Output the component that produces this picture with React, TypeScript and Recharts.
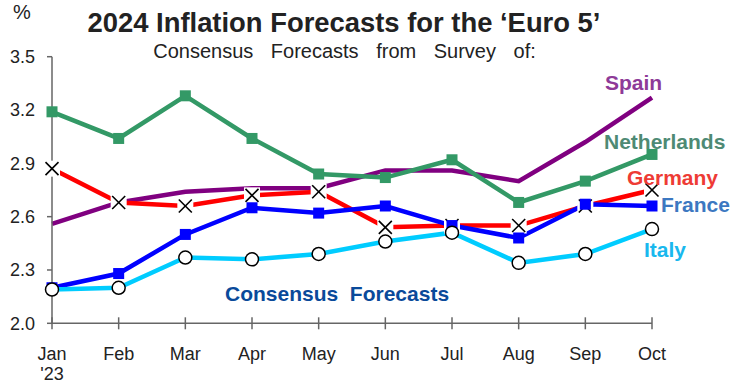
import { LineChart, Line, XAxis, YAxis } from 'recharts';

const months = ['Jan', 'Feb', 'Mar', 'Apr', 'May', 'Jun', 'Jul', 'Aug', 'Sep', 'Oct'];
const netherlands = [3.19, 3.04, 3.28, 3.04, 2.84, 2.82, 2.92, 2.68, 2.8, 2.95];
const spain = [2.56, 2.68, 2.74, 2.76, 2.76, 2.86, 2.86, 2.8, 3.02, 3.27];
const germany = [2.87, 2.68, 2.66, 2.72, 2.74, 2.54, 2.55, 2.55, 2.66, 2.75];
const france = [2.2, 2.28, 2.5, 2.65, 2.62, 2.66, 2.55, 2.48, 2.67, 2.66];
const italy = [2.19, 2.2, 2.37, 2.36, 2.39, 2.46, 2.51, 2.34, 2.39, 2.53];
const yTicks = [2.0, 2.3, 2.6, 2.9, 3.2, 3.5];

const data = months.map((m, i) => ({
  month: m,
  netherlands: netherlands[i],
  spain: spain[i],
  germany: germany[i],
  france: france[i],
  italy: italy[i],
}));

const FONT = '"Liberation Sans", Arial, sans-serif';
const AXIS = '#666666';

const squareDot = (color: string) => (props: any) => {
  const { cx, cy, index } = props;
  if (cx == null || cy == null) return <g key={index} />;
  return <rect key={index} x={cx - 5.5} y={cy - 5.5} width={11} height={11} fill={color} />;
};

const CrossDot = (props: any) => {
  const { cx, cy, index } = props;
  if (cx == null || cy == null) return <g key={index} />;
  return (
    <g key={index}>
      <rect x={cx - 8} y={cy - 8} width={16} height={16} fill="#fff" />
      <line x1={cx - 6.5} y1={cy - 6.5} x2={cx + 6.5} y2={cy + 6.5} stroke="#000" strokeWidth={1.6} />
      <line x1={cx - 6.5} y1={cy + 6.5} x2={cx + 6.5} y2={cy - 6.5} stroke="#000" strokeWidth={1.6} />
    </g>
  );
};

const CircleDot = (props: any) => {
  const { cx, cy, index } = props;
  if (cx == null || cy == null) return <g key={index} />;
  return <circle key={index} cx={cx} cy={cy} r={6.5} fill="#fff" stroke="#000" strokeWidth={1.5} />;
};

const MonthTick = (props: any) => {
  const { x, y, payload } = props;
  return (
    <g>
      <line x1={x} y1={y - 12} x2={x} y2={y} stroke={AXIS} strokeWidth={1.5} />
      <text x={x} y={y + 31} textAnchor="middle" fontSize={18} fill="#222" fontFamily={FONT}>
        {payload.value}
      </text>
      {payload.value === 'Jan' && (
        <text x={x} y={y + 51} textAnchor="middle" fontSize={18} fill="#222" fontFamily={FONT}>
          '23
        </text>
      )}
    </g>
  );
};

export default function App() {
  return (
    <div style={{ position: 'absolute', left: 0, top: 0, width: 731, height: 385, fontFamily: FONT }}>
      <LineChart
        width={731}
        height={385}
        data={data}
        margin={{ top: 56.7, right: 79, left: 16, bottom: 11.7 }}
      >
        <XAxis
          dataKey="month"
          height={50}
          stroke={AXIS}
          strokeWidth={1.5}
          tickLine={false}
          tickSize={6}
          tickMargin={0}
          interval={0}
          tick={<MonthTick />}
        />
        <YAxis
          width={36}
          domain={[2, 3.5]}
          ticks={yTicks}
          tickFormatter={(v: number) => v.toFixed(1)}
          stroke={AXIS}
          strokeWidth={1.5}
          tickSize={5}
          tickMargin={12}
          tick={{ fontSize: 18, fill: '#222', fontFamily: FONT }}
          allowDataOverflow
        />
        <Line dataKey="spain" stroke="#800080" strokeWidth={4.5} dot={false} isAnimationActive={false} />
        <Line dataKey="netherlands" stroke="#339966" strokeWidth={4.5} dot={squareDot('#339966')} isAnimationActive={false} />
        <Line dataKey="germany" stroke="#ff0000" strokeWidth={4.5} dot={CrossDot} isAnimationActive={false} />
        <Line dataKey="france" stroke="#0000ff" strokeWidth={4.5} dot={squareDot('#0000ff')} isAnimationActive={false} />
        <Line dataKey="italy" stroke="#00ccff" strokeWidth={4.5} dot={CircleDot} isAnimationActive={false} />
      </LineChart>
      <svg
        width={731}
        height={385}
        style={{ position: 'absolute', left: 0, top: 0, pointerEvents: 'none' }}
      >
        <text x={13} y={19} fontSize={20} fill="#222" fontFamily={FONT}>%</text>
        <text x={344} y={32} textAnchor="middle" fontSize={27.4} fontWeight="bold" fill="#222" fontFamily={FONT}>
          2024 Inflation Forecasts for the ‘Euro 5’
        </text>
        <text x={344.5} y={58} textAnchor="middle" fontSize={20} wordSpacing={12} fill="#222" fontFamily={FONT}>
          Consensus Forecasts from Survey of:
        </text>
        <text x={605} y={90} fontSize={21} fontWeight="bold" fill="#8e3a98" fontFamily={FONT}>Spain</text>
        <text x={604} y={149} fontSize={21} fontWeight="bold" fill="#4e8a74" fontFamily={FONT}>Netherlands</text>
        <text x={627} y={185} fontSize={21} fontWeight="bold" fill="#ee3b35" fontFamily={FONT}>Germany</text>
        <text x={661} y={212} fontSize={21} fontWeight="bold" fill="#3c78c1" fontFamily={FONT}>France</text>
        <text x={644} y={257} fontSize={21} fontWeight="bold" fill="#19b8ee" fontFamily={FONT}>Italy</text>
        <text x={225} y={301} fontSize={21} fontWeight="bold" fill="#0a4a9a" fontFamily={FONT} style={{ whiteSpace: 'pre' }}>
          {'Consensus  Forecasts'}
        </text>
      </svg>
    </div>
  );
}
